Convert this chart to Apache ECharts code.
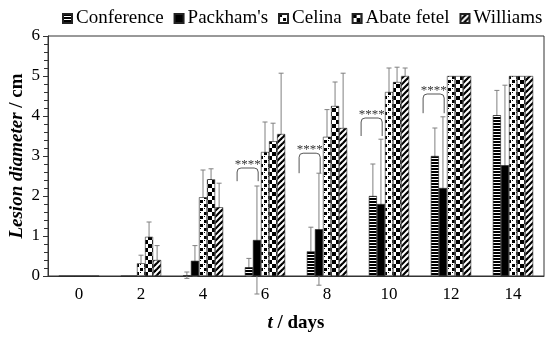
<!DOCTYPE html>
<html><head><meta charset="utf-8">
<script src="https://cdn.jsdelivr.net/npm/echarts@6/dist/echarts.min.js"></script>
<style>html,body{margin:0;padding:0;background:#fff}#c{width:550px;height:339px}</style>
</head><body><div id="c"></div>
<script>
var days = ['0','2','4','6','8','10','12','14'];
var seriesNames = ['Conference', "Packham's", 'Celina', 'Abate fetel', 'Williams'];
var conference = [0, 0, 0.02, 0.22, 0.62, 2.0, 3.0, 4.02];
var packhams   = [0, 0, 0.38, 0.9, 1.17, 1.8, 2.2, 2.77];
var celina     = [0, 0.32, 1.97, 3.1, 3.48, 4.6, 5, 5];
var abate      = [0, 0.98, 2.42, 3.37, 4.25, 4.85, 5, 5];
var williams   = [0, 0.4, 1.72, 3.55, 3.7, 5.0, 5, 5];
var conferenceSD = [0, 0, 0.08, 0.22, 0.6, 0.8, 0.7, 0.62];
var packhamsSD   = [0, 0, 0.38, 1.35, 1.4, 1.62, 1.78, 2.0];
var celinaSD     = [0, 0.2, 0.68, 0.75, 0.68, 0.6, 0, 0];
var abateSD      = [0, 0.37, 0.26, 0.45, 0.6, 0.37, 0, 0];
var williamsSD   = [0, 0.36, 0.6, 1.52, 1.37, 0.2, 0, 0];
var bracketDays   = ['6', '8', '10', '12'];
var bracketTop    = [2.7, 3.07, 3.95, 4.55];
var bracketBottom = [2.37, 2.57, 3.5, 4.07];
var bracketLabel  = '****';
var yTicks = [0, 1, 2, 3, 4, 5, 6];

var values = [conference, packhams, celina, abate, williams];
var sds = [conferenceSD, packhamsSD, celinaSD, abateSD, williamsSD];

function tile(w, h, draw) {
  var c = document.createElement('canvas'); c.width = w; c.height = h;
  var g = c.getContext('2d'); g.fillStyle = '#fff'; g.fillRect(0, 0, w, h);
  g.fillStyle = '#000'; g.strokeStyle = '#000'; draw(g);
  return {image: c, repeat: 'repeat'};
}
var patterns = [
  tile(4, 3, function (g) { g.fillRect(0, 0, 4, 2); }),
  '#000',
  tile(8, 8, function (g) { g.fillRect(0, 0, 3, 3); g.fillRect(4, 4, 3, 3); g.fillRect(4,0,1,1); g.fillRect(0,4,1,1);}),
  tile(8, 8, function (g) { g.fillRect(0, 0, 4, 4); g.fillRect(4, 4, 4, 4); }),
  tile(6, 6, function (g) { g.lineWidth = 2.2; g.beginPath(); g.moveTo(-1, 7); g.lineTo(7, -1); g.stroke(); g.beginPath(); g.moveTo(-4, 4); g.lineTo(4, -4); g.stroke(); g.beginPath(); g.moveTo(2, 10); g.lineTo(10, 2); g.stroke(); })
];

var gapRatio = 0.35;
var series = [];
values.forEach(function (arr, i) {
  series.push({
    name: seriesNames[i], type: 'bar', data: arr, barGap: '0%', barCategoryGap: (gapRatio * 100) + '%',
    itemStyle: {color: patterns[i], borderColor: '#222', borderWidth: 0.6}, z: 3
  });
});
values.forEach(function (arr, i) {
  var d = arr.map(function (v, k) { return [k, v, sds[i][k]]; });
  series.push({
    type: 'custom', name: 'err' + i, z: 2, silent: true, legendHoverLink: false,
    data: d,
    renderItem: function (params, api) {
      var k = api.value(0), v = api.value(1), sd = api.value(2);
      if (!sd) return null;
      var band = api.size([1, 0])[0];
      var total = band * (1 - gapRatio), bw = total / 5;
      var c = api.coord([k, v]);
      var x = c[0] - total / 2 + (i + 0.5) * bw;
      var yHi = api.coord([k, v + sd])[1];
      var yLo = api.coord([k, v - sd])[1];
      var st = {stroke: '#808080', lineWidth: 1};
      return {type: 'group', children: [
        {type: 'line', shape: {x1: x, y1: yHi, x2: x, y2: yLo}, style: st},
        {type: 'line', shape: {x1: x - 2.5, y1: yHi, x2: x + 2.5, y2: yHi}, style: st},
        {type: 'line', shape: {x1: x - 2.5, y1: yLo, x2: x + 2.5, y2: yLo}, style: st}
      ]};
    }
  });
});
series.push({
  type: 'custom', name: 'brackets', z: 5, silent: true,
  data: bracketDays.map(function (d, j) { return [days.indexOf(d), bracketTop[j], bracketBottom[j]]; }),
  renderItem: function (params, api) {
    var k = api.value(0);
    var band = api.size([1, 0])[0];
    var cT = api.coord([k, api.value(1)]);
    var yB = api.coord([k, api.value(2)])[1];
    var xL = cT[0] - 0.45 * band, xR = cT[0] - 0.11 * band, yT = cT[1];
    var r = 4;
    var p = 'M' + xL + ' ' + yB + ' L' + xL + ' ' + (yT + r) + ' Q' + xL + ' ' + yT + ' ' + (xL + r) + ' ' + yT +
            ' L' + (xR - r) + ' ' + yT + ' Q' + xR + ' ' + yT + ' ' + xR + ' ' + (yT + r) + ' L' + xR + ' ' + yB;
    return {type: 'group', children: [
      {type: 'path', shape: {pathData: p}, style: {stroke: '#555', lineWidth: 1, fill: null}},
      {type: 'text', x: (xL + xR) / 2, y: yT + 3, style: {text: bracketLabel, fill: '#333', font: '13px "Liberation Serif"', align: 'center', verticalAlign: 'bottom'}}
    ]};
  }
});

var chart = echarts.init(document.getElementById('c'));
chart.setOption({
  animation: false,
  textStyle: {fontFamily: 'Liberation Serif', color: '#000'},
  legend: {
    top: 4, left: 57, data: seriesNames, icon: 'rect', itemWidth: 9, itemHeight: 9, itemGap: 10,
    textStyle: {fontFamily: 'Liberation Serif', fontSize: 19, color: '#000', padding: [0, 0, 0, -1]}
  },
  grid: {left: 48, right: 6, top: 36, bottom: 63, show: true, borderColor: '#333', borderWidth: 1, outerBoundsMode: 'none', containLabel: false},
  xAxis: {
    type: 'category', data: days,
    axisLine: {lineStyle: {color: '#333'}},
    axisTick: {length: 5, lineStyle: {color: '#333'}},
    axisLabel: {fontSize: 17, color: '#000', margin: 10, fontFamily: 'Liberation Serif'},
    name: '{a|t}{b| / days}', nameLocation: 'middle', nameGap: 38, nameMoveOverlap: false,
    nameTextStyle: {rich: {a: {fontSize: 19, fontStyle: 'italic', fontWeight: 'bold', fontFamily: 'Liberation Serif'}, b: {fontSize: 19, fontWeight: 'bold', fontFamily: 'Liberation Serif'}}}
  },
  yAxis: {
    type: 'value', min: yTicks[0], max: yTicks[yTicks.length - 1], interval: 1,
    axisLine: {show: true, lineStyle: {color: '#333'}},
    axisTick: {show: true, length: 5, lineStyle: {color: '#333'}},
    minorTick: {show: true, splitNumber: 5, length: 4, lineStyle: {color: '#333'}},
    splitLine: {show: false},
    axisLabel: {fontSize: 17, color: '#000', margin: 8, fontFamily: 'Liberation Serif'},
    name: '{a|Lesion diameter}{b| / cm}', nameLocation: 'middle', nameGap: 21, nameRotate: 90, nameMoveOverlap: false,
    nameTextStyle: {rich: {a: {fontSize: 19, fontStyle: 'italic', fontWeight: 'bold', fontFamily: 'Liberation Serif'}, b: {fontSize: 19, fontWeight: 'bold', fontFamily: 'Liberation Serif'}}}
  },
  series: series
});
</script></body></html>
